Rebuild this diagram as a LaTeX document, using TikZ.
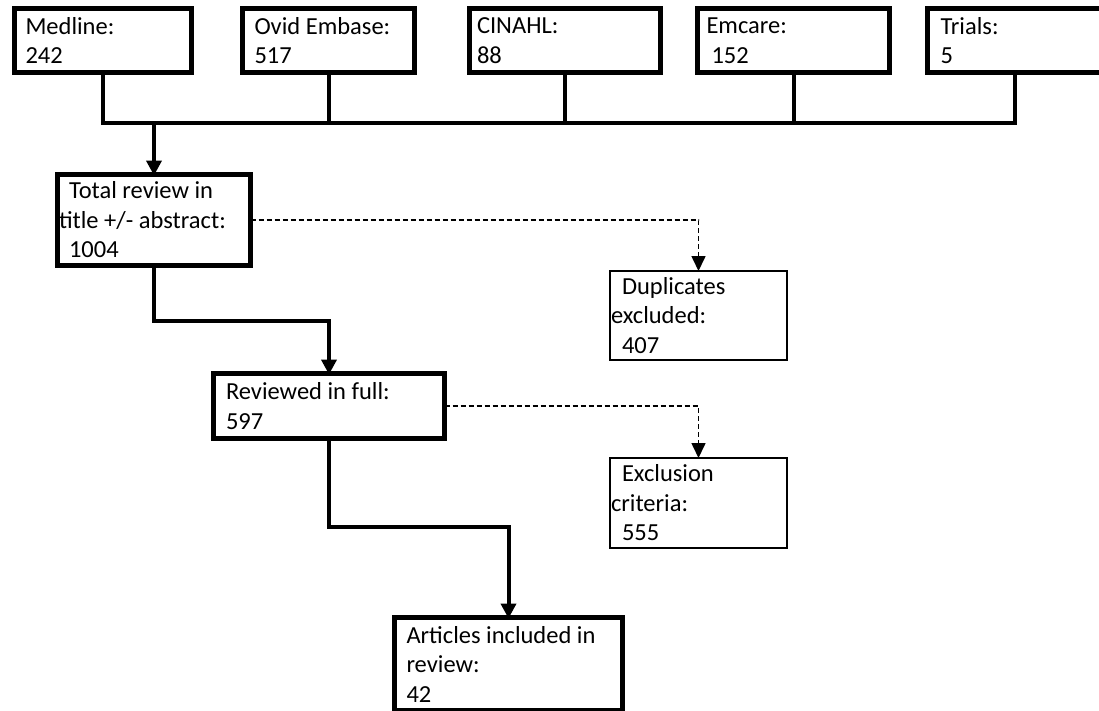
\documentclass[tikz,border=0pt]{standalone}
\usepackage{fontspec}
\setmainfont{Carlito}
\usetikzlibrary{arrows.meta,calc}
\tikzset{
  x=1pt, y=-1pt,
  boxbase/.style={rectangle, draw=black, fill=white, align=flush left, anchor=center,
    font=\fontsize{24.5}{29.5}\selectfont, inner ysep=0pt, outer sep=0pt},
  thickbox/.style={boxbase, line width=5pt},
  thinbox/.style={boxbase, line width=1.8pt},
  solidline/.style={line width=4pt, line join=miter},
  solidarrow/.style={solidline, -{Triangle[length=15pt,width=15pt]}, shorten >=-1pt},
  dashedarrow/.style={line width=1.6pt, dash pattern=on 5pt off 3pt, -{Triangle[length=15pt,width=14pt]}},
}
\begin{document}
\begin{tikzpicture}
\useasboundingbox (0,0) rectangle (1099,710);
% top row
\node[thickbox, minimum width=177pt, minimum height=64pt, inner xsep=11pt, text width=155pt] (med) at (103,40.5) {Medline:\\242};
\node[thickbox, minimum width=172pt, minimum height=64pt, inner xsep=12pt, text width=148pt] (ovid) at (328.5,40.5) {Ovid Embase:\\517};
\node[thickbox, minimum width=191pt, minimum height=64pt, inner xsep=7.5pt, text width=176pt] (cin) at (565,40.5) {CINAHL:\\88};
\node[thickbox, minimum width=192pt, minimum height=64pt, inner xsep=9pt, text width=174pt] (emc) at (793.5,40.5) {Emcare:\\\hspace*{5pt}152};
\node[thickbox, minimum width=175pt, minimum height=64pt, inner xsep=13pt, text width=149pt] (tri) at (1015,40.5) {Trials:\\5};
% bus
\coordinate (busL) at (103,123);
\coordinate (busR) at (1015,123);
\draw[solidline] (med.south) -- (med.south |- busL);
\draw[solidline] (ovid.south) -- (ovid.south |- busL);
\draw[solidline] (cin.south) -- (cin.south |- busL);
\draw[solidline] (emc.south) -- (emc.south |- busL);
\draw[solidline] (tri.south) -- (tri.south |- busL);
\draw[solidline, line cap=rect] (busL) -- (busR);
% main flow
\node[thickbox, minimum width=193pt, minimum height=91pt, inner xsep=1.5pt, text width=190pt] (tot) at (154,220) {\hspace*{10pt}Total review in\\title +/- abstract:\\\hspace*{10pt}1004};
\draw[solidarrow] (tot.north |- busL) -- (tot.north);
\node[thickbox, minimum width=231pt, minimum height=65pt, inner xsep=12.5pt, text width=206pt] (rev) at (329,406) {Reviewed in full:\\597};
\coordinate (k1) at (0,321);
\draw[solidarrow] (tot.south) -- (tot.south |- k1) -| (rev.north);
\node[thickbox, minimum width=228pt, minimum height=93pt, inner xsep=12pt, text width=204pt] (art) at (508.5,664) {Articles included in\\review:\\42};
\coordinate (k2) at (0,527);
\draw[solidarrow] (rev.south) -- (rev.south |- k2) -| (art.north);
% exclusions
\node[thinbox, minimum width=177pt, minimum height=89pt, inner xsep=1pt, text width=175pt] (dup) at (698.5,315.5) {\hspace*{11pt}Duplicates\\excluded:\\\hspace*{11pt}407};
\node[thinbox, minimum width=177pt, minimum height=90pt, inner xsep=1pt, text width=175pt] (exc) at (698.5,503) {\hspace*{11pt}Exclusion\\criteria:\\\hspace*{11pt}555};
\draw[dashedarrow] (tot.east) -| (dup.north);
\draw[dashedarrow] (rev.east) -| (exc.north);
\end{tikzpicture}
\end{document}
